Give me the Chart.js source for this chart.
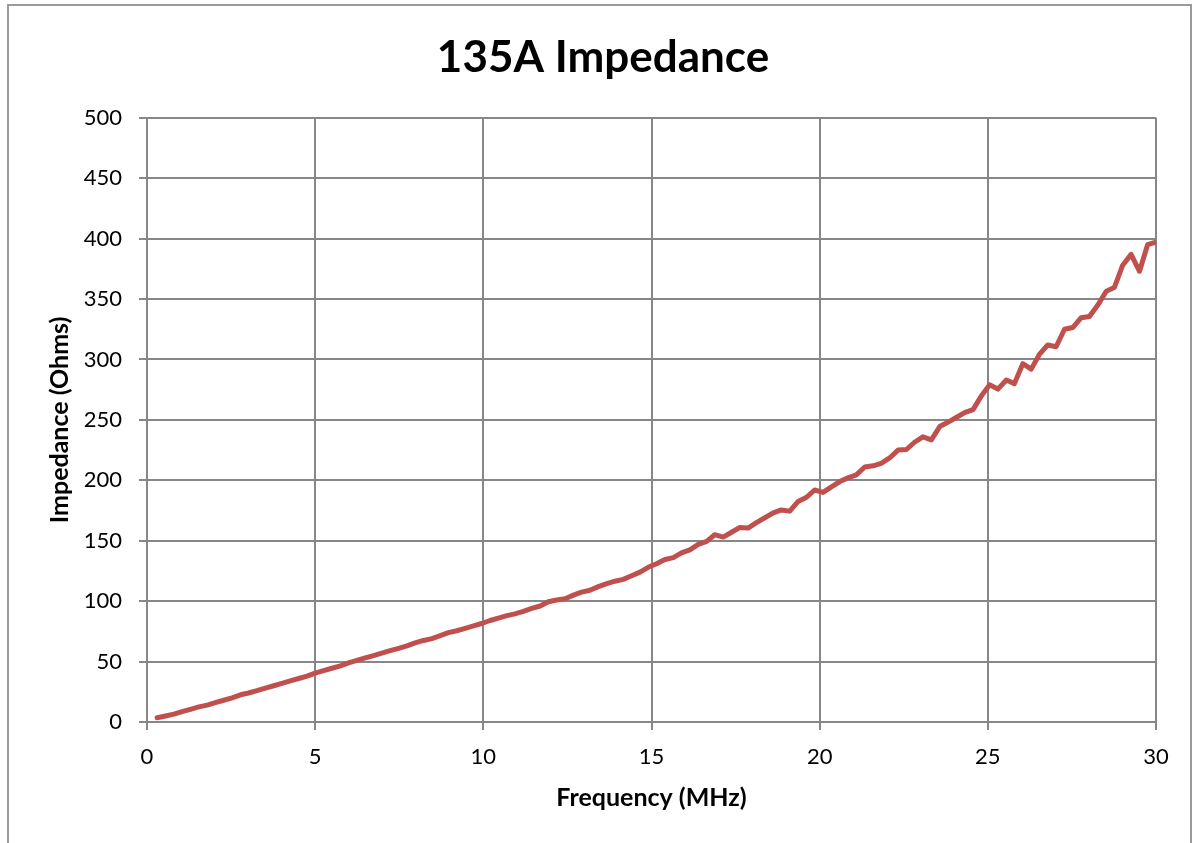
<!DOCTYPE html>
<html>
<head>
<meta charset="utf-8">
<title>135A Impedance</title>
<script src="https://cdn.jsdelivr.net/npm/chart.js@4.4.1/dist/chart.umd.min.js"></script>
<style>
  html, body {
    margin: 0;
    padding: 0;
    background: #ffffff;
    overflow: hidden;
  }
  #frame {
    position: absolute;
    left: 7px;
    top: 4px;
    width: 1181px;
    height: 900px;
    border: 2px solid #9a9a9a;
  }
  #holder {
    position: absolute;
    left: 0;
    top: 0;
    width: 1193px;
    height: 843px;
  }
</style>
</head>
<body>
<div id="frame"></div>
<div id="holder"><canvas id="impedance-chart" width="1193" height="843"></canvas></div>
<script>
// sweep frequencies (MHz)
const frequency = [
  0.3, 0.55, 0.8, 1.04, 1.29, 1.54, 1.79, 2.03, 2.28, 2.53,
  2.78, 3.02, 3.27, 3.52, 3.77, 4.01, 4.26, 4.51, 4.76, 5.0,
  5.25, 5.5, 5.75, 5.99, 6.24, 6.49, 6.74, 6.98, 7.23, 7.48,
  7.73, 7.97, 8.22, 8.47, 8.72, 8.96, 9.21, 9.46, 9.71, 9.95,
  10.2, 10.45, 10.7, 10.94, 11.19, 11.44, 11.69, 11.93, 12.18, 12.43,
  12.68, 12.92, 13.17, 13.42, 13.67, 13.91, 14.16, 14.41, 14.66, 14.9,
  15.15, 15.4, 15.65, 15.89, 16.14, 16.39, 16.64, 16.88, 17.13, 17.38,
  17.63, 17.87, 18.12, 18.37, 18.62, 18.86, 19.11, 19.36, 19.61, 19.85,
  20.1, 20.35, 20.6, 20.84, 21.09, 21.34, 21.59, 21.83, 22.08, 22.33,
  22.58, 22.82, 23.07, 23.32, 23.57, 23.81, 24.06, 24.31, 24.56, 24.8,
  25.05, 25.3, 25.55, 25.79, 26.04, 26.29, 26.54, 26.78, 27.03, 27.28,
  27.53, 27.77, 28.02, 28.27, 28.52, 28.76, 29.01, 29.26, 29.51, 29.75,
  30.0
];

// measured impedance (Ohms)
const impedance = [
  3.5, 5, 6.5, 8.5, 10.5, 12.5, 14, 16, 18, 20,
  22.5, 24, 26, 28, 30, 32, 34, 36, 38, 40.5,
  42.5, 44.5, 46.5, 49, 51, 53, 55, 57, 59, 61,
  63, 65.5, 67.5, 69, 71.5, 74, 75.5, 77.5, 79.5, 81.5,
  84, 86, 88, 89.5, 91.5, 94, 96, 99.5, 101, 102,
  105, 107.5, 109, 112, 114.5, 116.5, 118, 121, 124, 128,
  131, 134.5, 136, 140, 142.5, 147, 149.5, 155, 153, 157,
  161, 160.5, 165, 169, 173, 175.5, 174.5, 182.5, 186, 192,
  190, 194.5, 199, 202, 204.5, 211, 212, 214, 218.5, 225,
  225.5, 231.5, 236, 233.5, 244.5, 248, 252, 256, 258.5, 269.5,
  279, 275.5, 283, 280, 296.5, 292, 304.5, 312, 310.5, 325,
  326.5, 334.5, 335.5, 345, 356.5, 359.5, 378, 387, 373, 395,
  397
];

// axis setup
const xMin = 0;
const xMax = 30;
const xStep = 5;
const yMin = 0;
const yMax = 500;
const yStep = 50;

const chartTitle = "135A Impedance";
const xTitle = "Frequency (MHz)";
const yTitle = "Impedance (Ohms)";

const gridColor = "#878787";
const lineColor = "#C0504D";
const fontFamily = "Lato, 'Open Sans', sans-serif";

// build the point list from the two arrays
const points = [];
for (let i = 0; i < frequency.length; i++) {
  points.push({ x: frequency[i], y: impedance[i] });
}

const ctx = document.getElementById("impedance-chart").getContext("2d");

new Chart(ctx, {
  type: "line",
  data: {
    datasets: [
      {
        label: "Impedance",
        data: points,
        borderColor: lineColor,
        borderWidth: 5,
        borderCapStyle: "round",
        borderJoinStyle: "round",
        pointRadius: 0,
        tension: 0,
        fill: false,
      },
    ],
  },
  options: {
    responsive: false,
    animation: false,
    devicePixelRatio: 1,
    // left padding pushes the title centre over to where the original has it
    layout: {
      padding: { left: 50, right: 37, top: 0, bottom: 0 },
    },
    plugins: {
      legend: { display: false },
      tooltip: { enabled: false },
      title: {
        display: true,
        text: chartTitle,
        color: "#000000",
        font: { family: fontFamily, size: 44, weight: "bold" },
        padding: { top: 31, bottom: 34 },
      },
    },
    scales: {
      x: {
        type: "linear",
        min: xMin,
        max: xMax,
        afterFit: function (scale) {
          scale.height = 121;
        },
        ticks: {
          stepSize: xStep,
          color: "#000000",
          padding: 14,
          maxRotation: 0,
          font: { family: fontFamily, size: 22 },
        },
        grid: {
          color: gridColor,
          lineWidth: 2,
          tickLength: 8,
        },
        border: { color: gridColor, width: 2 },
        title: {
          display: true,
          text: xTitle,
          color: "#000000",
          font: { family: fontFamily, size: 25, weight: "bold" },
          padding: { top: 0, bottom: 30 },
        },
      },
      y: {
        type: "linear",
        min: yMin,
        max: yMax,
        afterFit: function (scale) {
          scale.width = 97;
        },
        ticks: {
          stepSize: yStep,
          color: "#000000",
          padding: 17,
          font: { family: fontFamily, size: 22 },
        },
        grid: {
          color: gridColor,
          lineWidth: 2,
          tickLength: 8,
        },
        border: { color: gridColor, width: 2 },
        title: {
          display: true,
          text: yTitle,
          color: "#000000",
          font: { family: fontFamily, size: 25, weight: "bold" },
          padding: { top: -5, bottom: 0 },
        },
      },
    },
  },
});
</script>
</body>
</html>
